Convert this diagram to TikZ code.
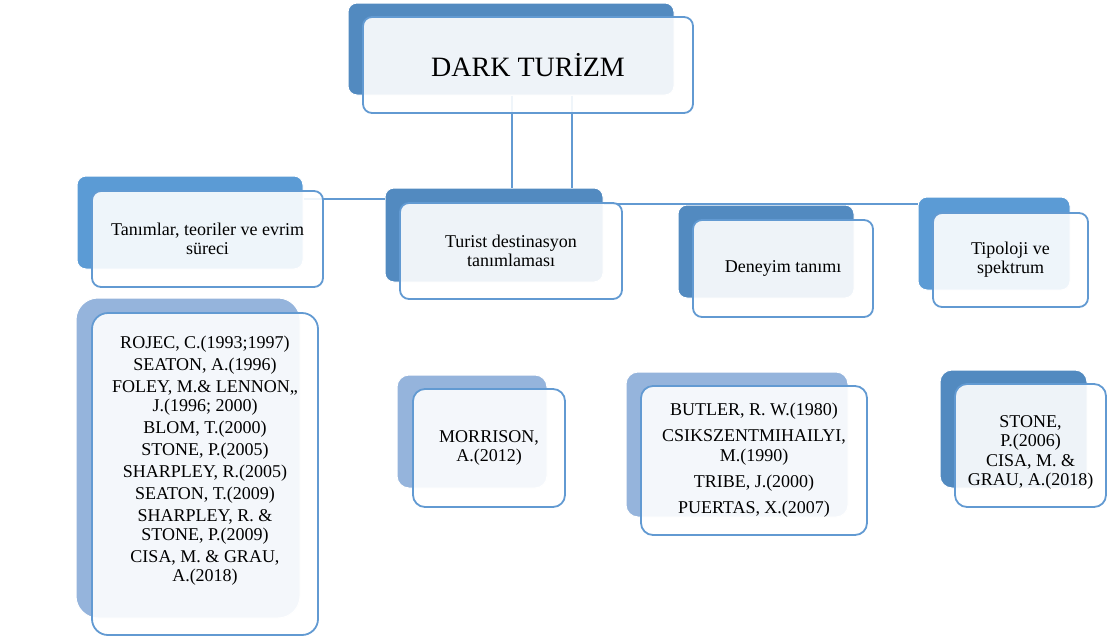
\documentclass[tikz,border=0pt]{standalone}
\usepackage{fontspec}
\setmainfont{Liberation Serif}
\usetikzlibrary{positioning}

\definecolor{darkblue}{RGB}{82,138,192}
\definecolor{midblue}{RGB}{91,155,213}
\definecolor{paleblue}{RGB}{149,180,220}
\definecolor{edgeblue}{RGB}{98,154,210}

\tikzset{
  backbox/.style={rectangle, rounded corners=9pt, draw=white, line width=1pt},
  frontbox/.style={rectangle, rounded corners=9pt, draw=edgeblue, line width=1.8pt,
    fill=white, fill opacity=0.9, text opacity=1, align=center, inner sep=4pt,
    font=\fontsize{18}{19}\selectfont},
  link/.style={draw=edgeblue, line width=1.6pt}
}

\begin{document}
\begin{tikzpicture}[x=1pt, y=-1pt]
  \useasboundingbox (0,0) rectangle (1107,638);

  % back plates, top level and first level
  \node[backbox, fill=darkblue, minimum width=326pt, minimum height=92pt] (rootback) at (511,49) {};
  \node[backbox, fill=midblue, minimum width=226pt, minimum height=93pt] (tanimback) at (190,222.5) {};
  \node[backbox, fill=darkblue, minimum width=218pt, minimum height=94pt] (turistback) at (494,235) {};
  \node[backbox, fill=darkblue, minimum width=176pt, minimum height=93pt] (deneyimback) at (766,251.5) {};
  \node[backbox, fill=midblue, minimum width=152pt, minimum height=93pt] (tipback) at (994,243.5) {};

  % back plates, second level
  \node[backbox, fill=paleblue, rounded corners=22pt, minimum width=224pt, minimum height=320pt] (kaynakback) at (188,458) {};
  \node[backbox, fill=paleblue, rounded corners=12pt, minimum width=150pt, minimum height=113pt] (morrisonback) at (472,431.5) {};
  \node[backbox, fill=paleblue, rounded corners=12pt, minimum width=222pt, minimum height=145pt] (butlerback) at (737,444.5) {};
  \node[backbox, fill=darkblue, rounded corners=12pt, minimum width=147pt, minimum height=118pt] (stoneback) at (1013.5,429) {};

  % connectors
  \coordinate (v1) at ([xshift=1pt]rootback.south);
  \coordinate (v2) at ([xshift=61pt]rootback.south);
  \coordinate (h1) at ([yshift=23.5pt]tanimback.east);
  \coordinate (h2) at ([yshift=31pt]turistback.east);
  \draw[link] (v1) -- (v1 |- turistback.north);
  \draw[link] (v2) -- (v2 |- turistback.north);
  \draw[link] (h1) -- (h1 -| turistback.west);
  \draw[link] (h2) -- (h2 -| tipback.west);

  % front boxes with text
  \node[frontbox, minimum width=330pt, minimum height=96pt, font=\fontsize{28}{30}\selectfont] (root) at (528,65) {DARK TURİZM};
  \node[frontbox, minimum width=231pt, minimum height=96pt] (tanim) at (207.5,239) {Tanımlar, teoriler ve evrim\\süreci};
  \node[frontbox, minimum width=222pt, minimum height=96pt] (turist) at (511,251) {Turist destinasyon\\tanımlaması};
  \node[frontbox, minimum width=180pt, minimum height=97pt] (deneyim) at (783,268.5) {Deneyim tanımı};
  \node[frontbox, minimum width=155pt, minimum height=94pt] (tip) at (1010.5,260) {Tipoloji ve\\spektrum};

  \node[frontbox, rounded corners=16pt, minimum width=226pt, minimum height=322pt, text depth=30pt] (kaynak) at (205,474)
    {ROJEC, C.(1993;1997)\\[3pt] SEATON, A.(1996)\\[3pt] FOLEY, M.\& LENNON,,\\J.(1996; 2000)\\[3pt]
     BLOM, T.(2000)\\[3pt] STONE, P.(2005)\\[3pt] SHARPLEY, R.(2005)\\[3pt] SEATON, T.(2009)\\[3pt]
     SHARPLEY, R. \&\\STONE, P.(2009)\\[3pt] CISA, M. \& GRAU,\\A.(2018)};
  \node[frontbox, rounded corners=12pt, minimum width=152pt, minimum height=118pt] (morrison) at (489,448) {MORRISON,\\A.(2012)};
  \node[frontbox, rounded corners=12pt, minimum width=226pt, minimum height=149pt, font=\fontsize{18}{20}\selectfont] (butler) at (754,460.5)
    {BUTLER, R. W.(1980)\\[6pt] CSIKSZENTMIHAILYI,\\M.(1990)\\[6pt] TRIBE, J.(2000)\\[6pt] PUERTAS, X.(2007)};
  \node[frontbox, rounded corners=12pt, minimum width=151pt, minimum height=123pt, text height=84pt] (stone) at (1030.5,445.5)
    {STONE,\\P.(2006)\\[1pt] CISA, M. \&\\GRAU, A.(2018)};
\end{tikzpicture}
\end{document}
